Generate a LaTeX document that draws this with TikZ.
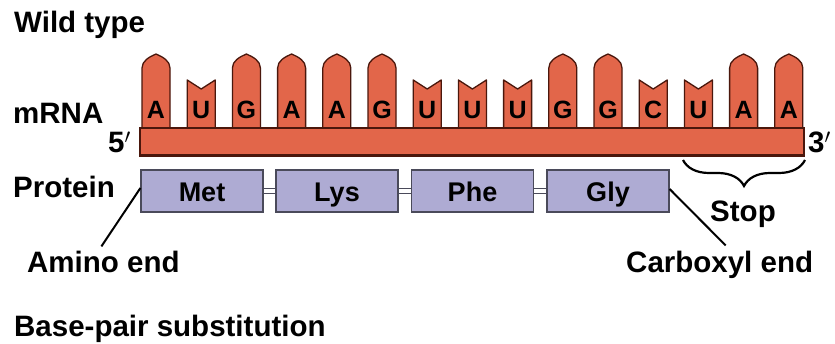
\documentclass[tikz,border=0pt]{standalone}
\usepackage{fontspec}
\setmainfont{Liberation Sans}
\usetikzlibrary{decorations.pathreplacing}
\definecolor{rnafill}{HTML}{E2664A}
\definecolor{rnaedge}{HTML}{4A170C}
\definecolor{protfill}{HTML}{AEABD3}
\definecolor{protedge}{HTML}{4A4A5A}
\begin{document}
\begin{tikzpicture}[x=1pt,y=-1pt,
  lbl/.style={font=\fontsize{29.5}{32}\selectfont\bfseries, inner sep=0pt},
  basechar/.style={font=\fontsize{25}{28}\selectfont\bfseries, inner sep=0pt, anchor=base},
  nucleotide/.style={draw=rnaedge, line width=1.3pt, fill=rnafill, line join=round},
  strand/.style={draw=rnaedge, line width=1.3pt, fill=rnafill},
  aa/.style={draw=protedge, line width=1.2pt, fill=protfill, minimum width=122pt,
    minimum height=42pt, inner sep=0pt, text height=22pt, text depth=0pt,
    font=\fontsize{27}{29}\selectfont\bfseries},
  peptide/.style={draw=protedge, line width=0.9pt},
  lead/.style={draw=black, line width=2pt},
  stopbrace/.style={draw=black, line width=2.2pt,
    decoration={brace, mirror, amplitude=26pt}, decorate}]
\useasboundingbox (0,0) rectangle (835,344);
\fill[white] (0,0) rectangle (835,344);

% nucleotides: t = purine (tall, pointed top), s = pyrimidine (short, notched top)
\foreach \l/\t [count=\i] in {A/t,U/s,G/t,A/t,A/t,G/t,U/s,U/s,U/s,G/t,G/t,C/s,U/s,A/t,A/t}{
  \pgfmathsetmacro\cx{156+45.2*(\i-1)}
  \if t\t
    \draw[nucleotide] (\cx-14,130) -- (\cx-14,68)
      .. controls (\cx-14,61) and (\cx-7,57) .. (\cx,54)
      .. controls (\cx+7,57) and (\cx+14,61) .. (\cx+14,68) -- (\cx+14,130) -- cycle;
  \else
    \draw[nucleotide] (\cx-14,130) -- (\cx-14,80) -- (\cx,89) -- (\cx+14,80)
      -- (\cx+14,130) -- cycle;
  \fi
  \node[basechar] (b\i) at (\cx,119) {\l};
}

% sugar-phosphate backbone
\draw[strand] (140,128) rectangle (804,156);
\draw[rnaedge, line width=2.2pt] (140,155.5) -- (804,155.5);

% labels
\node[lbl, anchor=base west] (wild) at (14,33) {Wild type};
\node[lbl, anchor=base west] (mrna) at (13,124) {mRNA};
\node[lbl, anchor=base east] (five) at (131,153) {5$'$};
\node[lbl, anchor=base west] (three) at (808,153) {3$'$};
\node[lbl, anchor=base west] (protein) at (13,198) {Protein};
\node[lbl, anchor=base west] (amino) at (27,273) {Amino end};
\node[lbl, anchor=base west] (carboxyl) at (626,273) {Carboxyl end};
\node[lbl, anchor=base] (stop) at (743,222) {Stop};
\node[lbl, anchor=base west] (subst) at (14,337) {Base-pair substitution};

% polypeptide
\node[aa] (met) at (202,191) {Met};
\node[aa] (lys) at (337,191) {Lys};
\node[aa] (phe) at (472.5,191) {Phe};
\node[aa] (gly) at (608,191) {Gly};
\foreach \a/\b in {met/lys, lys/phe, phe/gly}{
  \draw[peptide] ([yshift=2.5pt]\a.east) -- ([yshift=2.5pt]\b.west);
  \draw[peptide] ([yshift=-2.5pt]\a.east) -- ([yshift=-2.5pt]\b.west);
}

% ends of the chain
\draw[lead] ([yshift=3pt]met.west) -- ([xshift=-2pt,yshift=5pt]amino.north);
\draw[lead] ([yshift=2pt]gly.east) -- ([xshift=6pt,yshift=6pt]carboxyl.north);

% stop codon
\coordinate (brL) at (683,160);
\coordinate (brR) at (805,160);
\draw[stopbrace] (brL) -- (brR);
\end{tikzpicture}
\end{document}
